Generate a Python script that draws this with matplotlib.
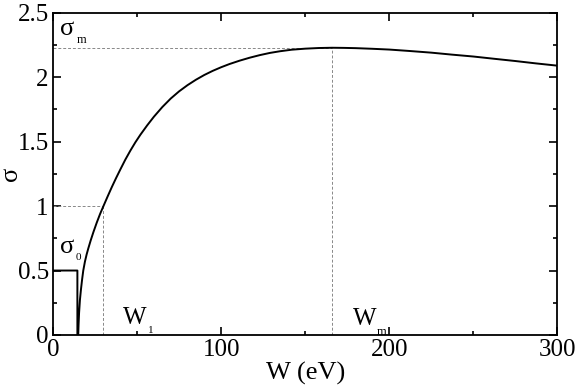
import matplotlib
matplotlib.use("Agg")
import matplotlib.pyplot as plt
from matplotlib.ticker import MultipleLocator

# Valores
w_step = [0, 14.5, 14.5, 15]
sigma_step = [0.5, 0.5, 0.0, 0.0]

w_curve = [15, 15.2, 15.5, 16, 16.6, 17.3, 18, 19, 20, 21, 22.4, 24, 26, 28,
           30, 32.5, 35, 37.5, 40, 43, 46, 49, 52, 56, 60, 65, 70, 75, 80, 85,
           90, 95, 100, 105, 111, 117, 123, 129, 135, 142, 150, 158, 166, 173,
           180, 190, 200, 212, 225, 237, 250, 262, 275, 287, 300]
sigma_curve = [0.0, 0.08, 0.17, 0.27, 0.35, 0.43, 0.50, 0.57, 0.625, 0.672,
               0.733, 0.797, 0.871, 0.939, 1.0, 1.075, 1.148, 1.217, 1.283,
               1.36, 1.43, 1.495, 1.554, 1.626, 1.693, 1.768, 1.834, 1.89,
               1.938, 1.98, 2.017, 2.049, 2.077, 2.102, 2.128, 2.151, 2.171,
               2.188, 2.201, 2.213, 2.221, 2.226, 2.228, 2.227, 2.225, 2.22,
               2.214, 2.203, 2.19, 2.175, 2.16, 2.143, 2.125, 2.107, 2.089]

w1, sigma1 = 30, 1.0
wm, sigma_m = 166, 2.228

plt.rcParams["font.family"] = ["Liberation Serif", "DejaVu Serif"]

fig = plt.figure(figsize=(5.78, 3.87), dpi=100)
ax = fig.add_axes([0.0917, 0.1344, 0.8728, 0.8328])

# Linhas tracejadas de referência
dash = dict(color="#888888", lw=0.7, ls=(0, (3, 2)))
ax.plot([0, w1], [sigma1, sigma1], **dash)
ax.plot([w1, w1], [0, sigma1], **dash)
ax.plot([0, wm], [sigma_m, sigma_m], **dash)
ax.plot([wm, wm], [0, sigma_m], **dash)

# Curva principal
ax.plot(w_step + w_curve[1:], sigma_step + sigma_curve[1:], color="black", lw=1.4,
        solid_joinstyle="round")

ax.set_xlim(0, 300)
ax.set_ylim(0, 2.5)
ax.xaxis.set_major_locator(MultipleLocator(100))
ax.xaxis.set_minor_locator(MultipleLocator(50))
ax.yaxis.set_major_locator(MultipleLocator(0.5))
ax.yaxis.set_minor_locator(MultipleLocator(0.25))
ax.set_yticks([0, 0.5, 1, 1.5, 2, 2.5])
ax.set_yticklabels(["0", "0.5", "1", "1.5", "2", "2.5"])

ax.tick_params(which="both", direction="in", top=True, right=True,
               labelsize=18, width=1.2, colors="black")
ax.tick_params(which="major", length=6, pad=3)
ax.tick_params(which="minor", length=3)
for s in ax.spines.values():
    s.set_linewidth(1.3)

ax.set_xlabel("W (eV)", fontsize=19)
ax.set_ylabel("σ", fontsize=19)
ax.xaxis.set_label_coords(0.5, -0.085)
ax.xaxis.label.set_va("top")
ax.yaxis.set_label_coords(-0.062, 0.5)

# Anotações
ax.text(4.2, 2.327, "σ", fontsize=19)
ax.text(14.1, 2.268, "m", fontsize=9)
ax.text(4.2, 0.638, "σ", fontsize=19)
ax.text(13.7, 0.582, "0", fontsize=8)
ax.text(41.8, 0.085, "W", fontsize=18)
ax.text(56.5, 0.018, "1", fontsize=8)
ax.text(178.4, 0.078, "W", fontsize=18)
ax.text(192.4, 0.0, "m", fontsize=9)

plt.savefig("out.png", dpi=100)
